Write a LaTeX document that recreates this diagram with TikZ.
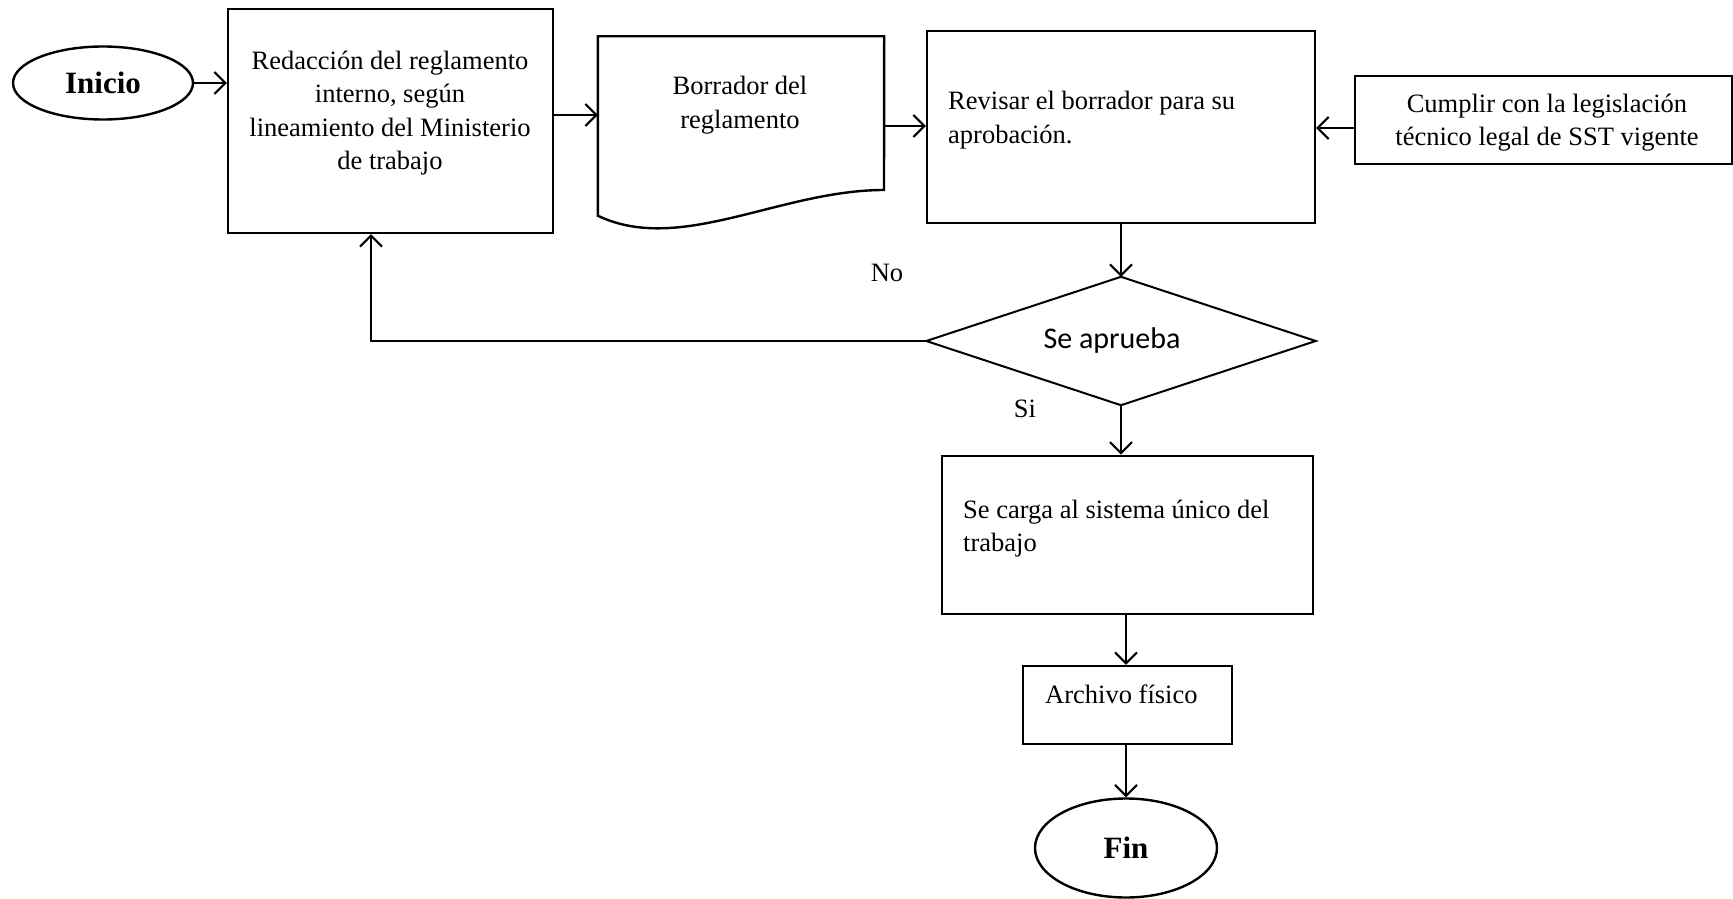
\documentclass[tikz,border=0pt]{standalone}
\usepackage{fontspec}
\setmainfont{Liberation Serif}
\newfontfamily\decfont{Carlito}
\usetikzlibrary{shapes.geometric,arrows.meta}
\begin{document}
\begin{tikzpicture}[x=1pt,y=-1pt,
  procbox/.style={draw,rectangle,line width=2.4pt,inner sep=0pt},
  txt/.style={inner sep=0pt,font=\fontsize{26.5}{33.5}\selectfont},
  term/.style={draw,ellipse,line width=2.4pt,inner sep=0pt,font=\fontsize{31}{36}\selectfont\bfseries},
  arr/.style={line width=2pt,-{Straight Barb[length=11pt,width=22pt]}},
  backarr/.style={line width=1.4pt,-{Straight Barb[length=11pt,width=22pt,line width=2pt]}}]
\useasboundingbox (0,0) rectangle (1733,899);

% terminals
\node[term,minimum width=180pt,minimum height=73pt] (ini) at (103,83) {Inicio};
\node[term,minimum width=182pt,minimum height=99pt] (fin) at (1126,848) {Fin};

% drafting step
\node[procbox,minimum width=325pt,minimum height=224pt] (red) at (390.5,121) {};
\node[txt,align=center] (redt) at (390,113) {Redacción del reglamento\\interno, según\\lineamiento del Ministerio\\de trabajo};

% draft document
\node[inner sep=0pt,minimum width=286pt,minimum height=179pt] (bor) at (741,126) {};
\draw[line width=2.4pt] (bor.north west) -- (bor.north east) -- (884,190)
  .. controls (780,190) and (680,255) .. (bor.south west) -- cycle;
\node[txt,align=center] (bort) at (740,105) {Borrador del\\reglamento};

% review step
\node[procbox,minimum width=388pt,minimum height=192pt] (rev) at (1121,127) {};
\node[txt,align=left,anchor=west] (revt) at (948,120) {Revisar el borrador para su\\aprobación.};

% legal requirement
\node[procbox,txt,line width=2.4pt,minimum width=377pt,minimum height=88pt,align=center] (cum) at (1543.5,120) {};
\node[txt,align=center] (cumt) at (1547,122.5) {Cumplir con la legislación\\técnico legal de SST vigente};

% approval decision
\node[inner sep=0pt,minimum width=389pt,minimum height=128pt] (dia) at (1121,341) {};
\draw[line width=2pt,line join=miter] (dia.north) -- (dia.east) -- (dia.south) -- (dia.west) -- cycle;
\node[inner sep=0pt,font=\decfont\fontsize{30}{36}\selectfont] (diat) at (1112,340) {Se aprueba};
\node[txt] (nolab) at (887,273) {No};
\node[txt] (silab) at (1025,409) {Si};

% upload step
\node[procbox,minimum width=371pt,minimum height=158.5pt] (car) at (1127.5,535) {};
\node[txt,align=left,anchor=west] (cart) at (963,528.5) {Se carga al sistema único del\\trabajo};

% physical archive
\node[procbox,minimum width=209pt,minimum height=78pt] (arc) at (1127.5,705) {};
\node[txt,anchor=west] (arct) at (1045,694) {Archivo físico};

% connectors
\draw[arr] (ini.east) -- (ini.east -| red.west);
\draw[arr] ([yshift=6pt]red.east) -- ([yshift=6pt]red.east -| bor.west);
\draw[arr] (bor.east) -- (bor.east -| rev.west);
\draw[arr] ([yshift=-8pt]cum.west) -- ([yshift=-8pt]cum.west -| rev.east);
\draw[arr] (rev.south) -- (dia.north);
\draw[arr] (dia.south) -- (dia.south |- car.north);
\draw[arr] ([xshift=-1.5pt]car.south) -- ([xshift=-1.5pt]car.south |- arc.north);
\draw[arr] (fin.north |- arc.south) -- (fin.north);
\draw[backarr] (dia.west) -| ([xshift=-19.5pt]red.south);
\end{tikzpicture}
\end{document}
